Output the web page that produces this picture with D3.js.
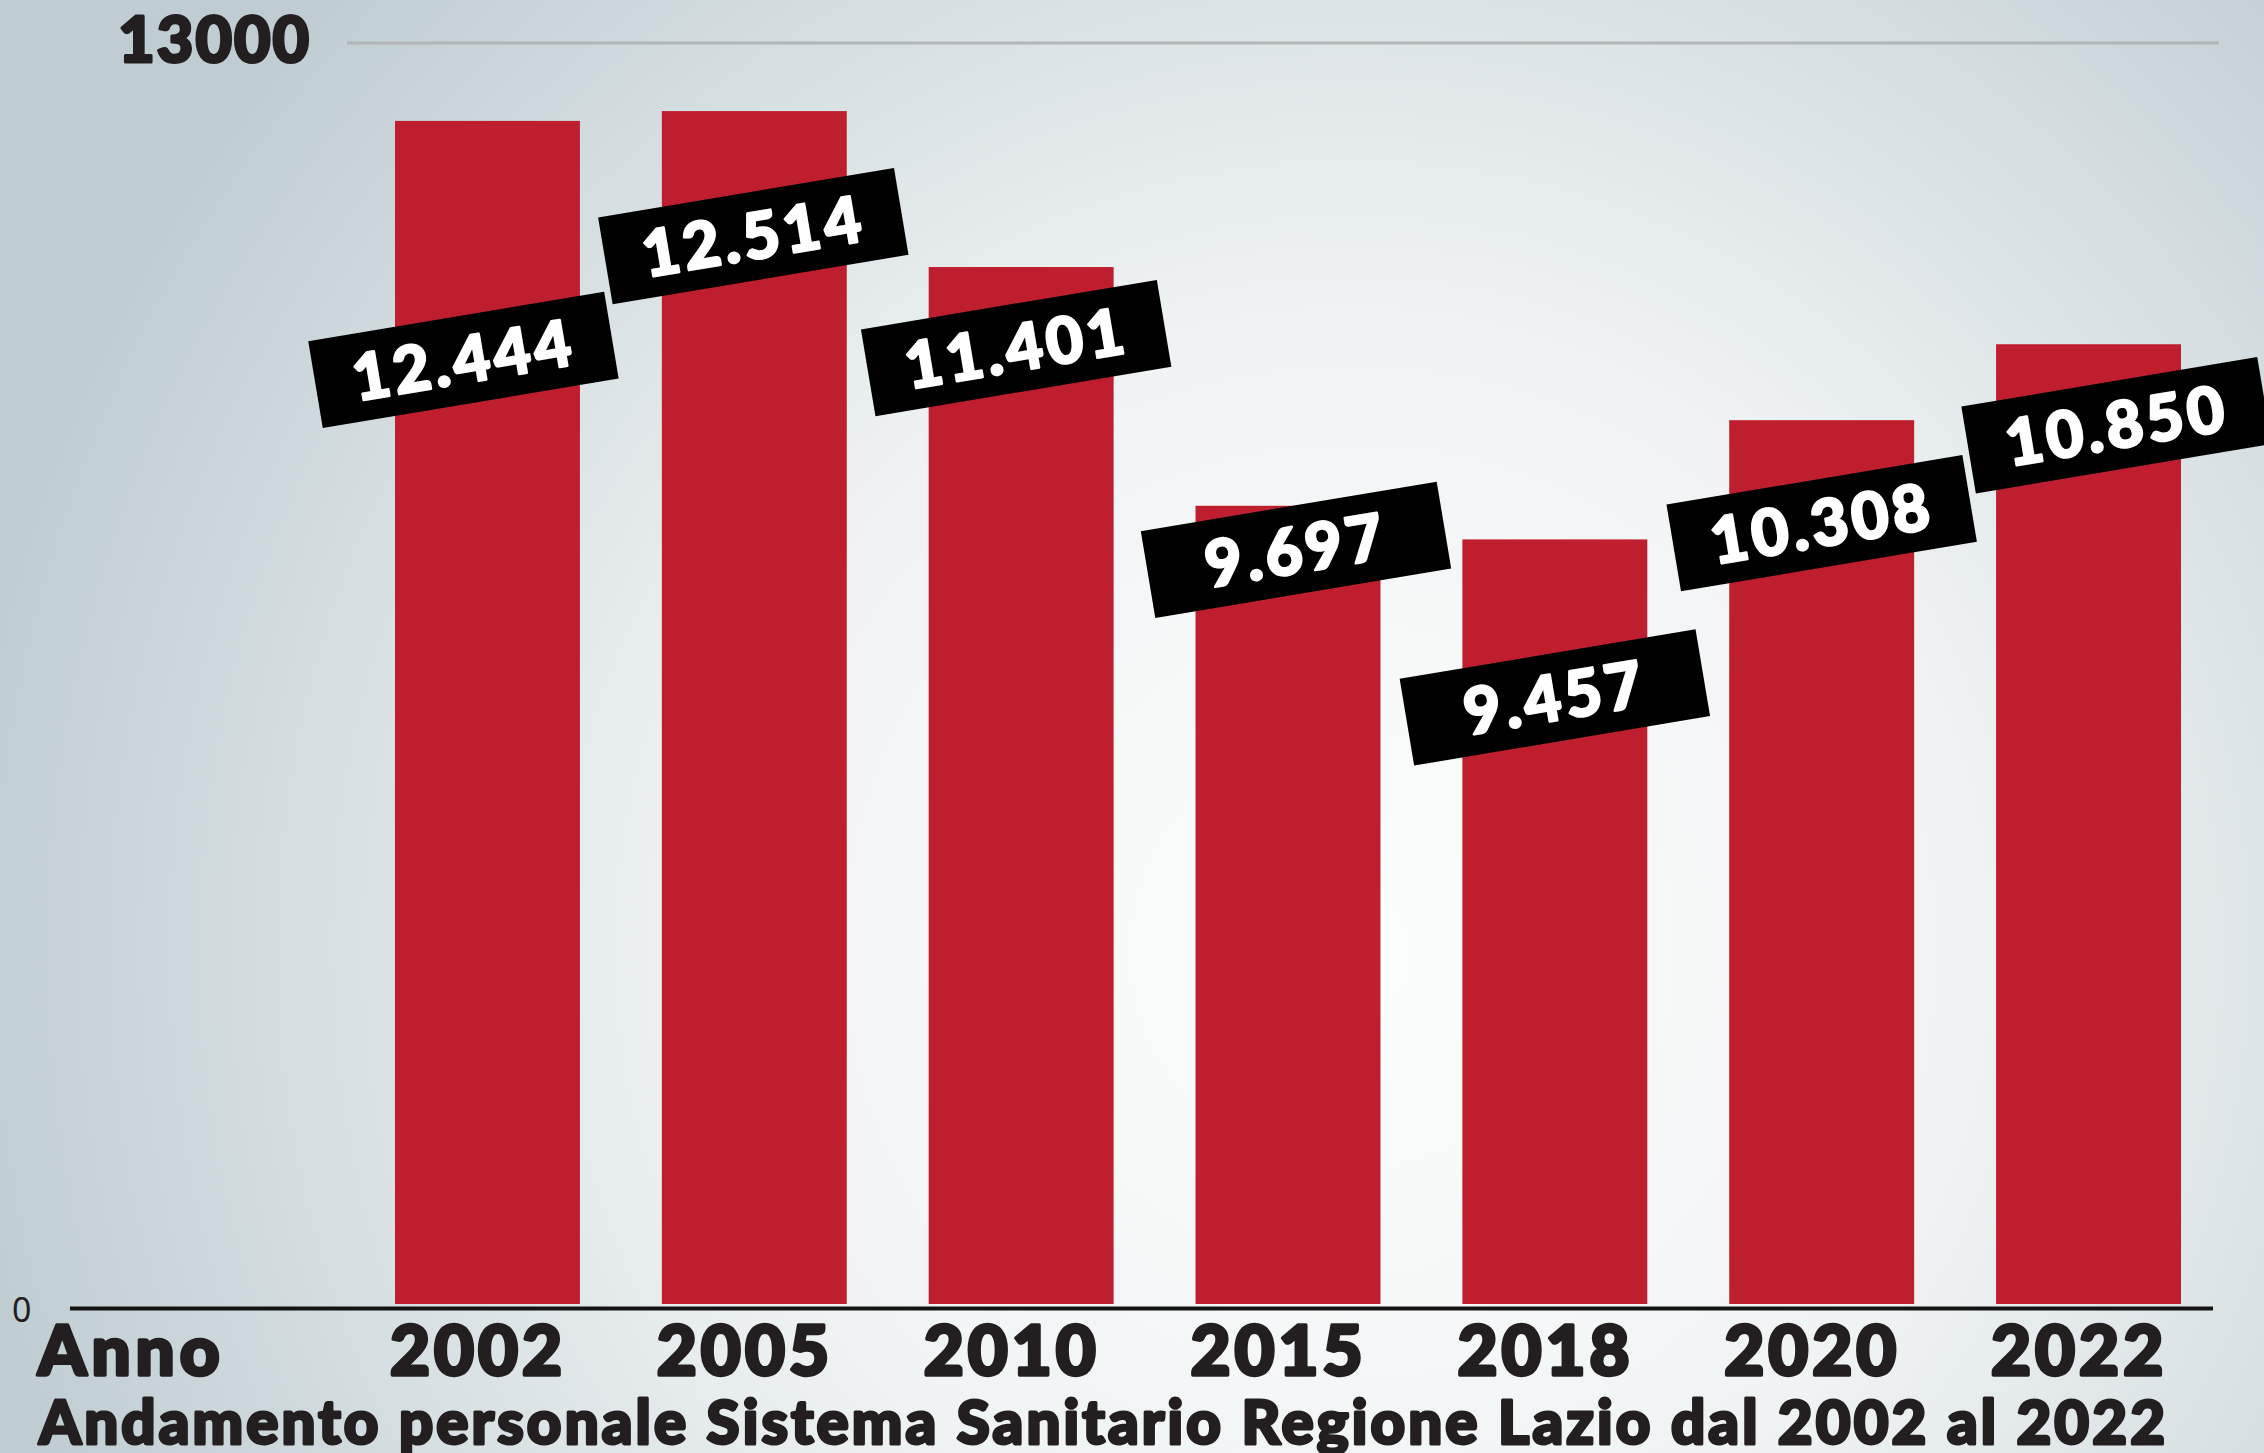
<!DOCTYPE html>
<html>
<head>
<meta charset="utf-8">
<script src="https://cdn.jsdelivr.net/npm/d3@7/dist/d3.min.js"></script>
<style>
    body { margin: 0; }
    svg { display: block; }
</style>
</head>
<body>
<div id="chart"></div>
<script>
// Personale SSR Lazio, per anno
const years = ["2002", "2005", "2010", "2015", "2018", "2020", "2022"];
const staff = [12444, 12514, 11401, 9697, 9457, 10308, 10850];

// y axis: the original baseline is labelled "0" but the bars are cut off lower down
const yTickValues = [4000, 13000];
const yTickLabels = ["0", "13000"];

const axisTitle = "Anno";
const chartTitle = "Andamento personale Sistema Sanitario Regione Lazio dal 2002 al 2022";

// hand placement of the tilted value tags, relative to the top of each bar
const tagShift = [[-24, 239], [-1, 125], [-5, 81], [8, 44], [0, 158], [0, 103], [28, 81]];

const width = 2264, height = 1453;
const font = "Lato, 'Open Sans', sans-serif";
const ink = "#231f20";

// Italian thousands separator -> 12.444
const it = d3.formatLocale({decimal: ",", thousands: ".", grouping: [3], currency: ["€", ""]});
const fmt = it.format(",");

// heavy look: fill + thin stroke of the same colour underneath
function heavy(sel, color, w) {
    sel.attr("fill", color)
        .attr("stroke", color)
        .attr("stroke-width", w)
        .attr("stroke-linejoin", "round")
        .style("paint-order", "stroke");
}

const svg = d3.select("#chart")
    .append("svg")
        .attr("width", width)
        .attr("height", height);

// background wash
const grad = svg.append("defs").append("radialGradient")
    .attr("id", "bg")
    .attr("gradientUnits", "userSpaceOnUse")
    .attr("cx", 1350).attr("cy", 950).attr("r", 1400);
grad.append("stop").attr("offset", "0").attr("stop-color", "#fcfdfd");
grad.append("stop").attr("offset", "0.45").attr("stop-color", "#f0f3f4");
grad.append("stop").attr("offset", "1").attr("stop-color", "#bfcdd2");
svg.append("rect")
    .attr("width", width)
    .attr("height", height)
    .attr("fill", "url(#bg)");

const x = d3.scaleBand()
    .domain(years)
    .range([395, 2181])
    .paddingInner(0.307)
    .paddingOuter(0);

const y = d3.scaleLinear()
    .domain([yTickValues[0], yTickValues[1]])
    .range([1304, 43]);

// top gridline
svg.append("line")
    .attr("x1", 347).attr("x2", 2219)
    .attr("y1", y(yTickValues[1])).attr("y2", y(yTickValues[1]))
    .attr("stroke", "#b1b6b8")
    .attr("stroke-width", 3);

// y axis labels
const yAxis = svg.append("g")
    .call(d3.axisLeft(y)
        .tickValues(yTickValues)
        .tickFormat((d, i) => yTickLabels[i])
        .tickSize(0));
yAxis.select(".domain").remove();
yAxis.selectAll("text")
    .attr("fill", ink)
    .style("font-family", (d, i) => i === 0 ? "'Noto Sans', sans-serif" : font)
    .style("font-weight", (d, i) => i === 0 ? 400 : 900)
    .style("font-size", (d, i) => i === 0 ? "34px" : "63px")
    .style("letter-spacing", (d, i) => i === 0 ? "0px" : "2px")
    .attr("text-anchor", (d, i) => i === 0 ? "start" : "end")
    .attr("x", (d, i) => i === 0 ? 12 : 311)
    .attr("dy", (d, i) => i === 0 ? "0.52em" : "0.3em");
yAxis.selectAll("text").filter((d, i) => i === 1).call(heavy, ink, 3);

// bars
svg.selectAll(".bar")
    .data(staff)
    .enter().append("rect")
        .attr("class", "bar")
        .attr("x", (d, i) => x(years[i]))
        .attr("width", x.bandwidth())
        .attr("y", d => y(d))
        .attr("height", d => y.range()[0] - y(d))
        .attr("fill", "#be1e2d");

// baseline
svg.append("line")
    .attr("x1", 70).attr("x2", 2213)
    .attr("y1", 1308.5).attr("y2", 1308.5)
    .attr("stroke", "#141414")
    .attr("stroke-width", 4);

// x axis (years), left aligned under each bar
const xAxis = svg.append("g")
    .attr("transform", "translate(0,1310)")
    .call(d3.axisBottom(x).tickSize(0).tickPadding(0));
xAxis.select(".domain").remove();
xAxis.selectAll("text")
    .attr("text-anchor", "start")
    .attr("x", -x.bandwidth() / 2 - 5)
    .attr("y", 65)
    .attr("dy", 0)
    .style("font-family", font)
    .style("font-weight", 900)
    .style("font-size", "69px")
    .style("letter-spacing", "4px")
    .call(heavy, ink, 3.5);

svg.append("text")
    .attr("x", 38)
    .attr("y", 1375)
    .style("font-family", font)
    .style("font-weight", 900)
    .style("font-size", "69px")
    .style("letter-spacing", "5px")
    .call(heavy, ink, 3.5)
    .text(axisTitle);

svg.append("text")
    .attr("x", 39)
    .attr("y", 1444)
    .attr("textLength", 2126)
    .attr("lengthAdjust", "spacing")
    .style("font-family", font)
    .style("font-weight", 900)
    .style("font-size", "60px")
    .call(heavy, ink, 3)
    .text(chartTitle);

// tilted value tags
const tags = svg.selectAll(".tag")
    .data(staff)
    .enter().append("g")
        .attr("class", "tag")
        .attr("transform", (d, i) => {
            const cx = x(years[i]) + x.bandwidth() / 2 + tagShift[i][0];
            const cy = y(d) + tagShift[i][1];
            return `translate(${cx},${cy}) rotate(-9.5)`;
        });

tags.append("rect")
    .attr("x", -150)
    .attr("y", -44)
    .attr("width", 300)
    .attr("height", 88)
    .attr("fill", "#000");

tags.append("text")
    .attr("text-anchor", "middle")
    .attr("dy", "0.36em")
    .style("font-family", font)
    .style("font-weight", 900)
    .style("font-size", "64px")
    .style("letter-spacing", "4px")
    .call(heavy, "#fff", 2.5)
    .text(d => fmt(d));
</script>
</body>
</html>
